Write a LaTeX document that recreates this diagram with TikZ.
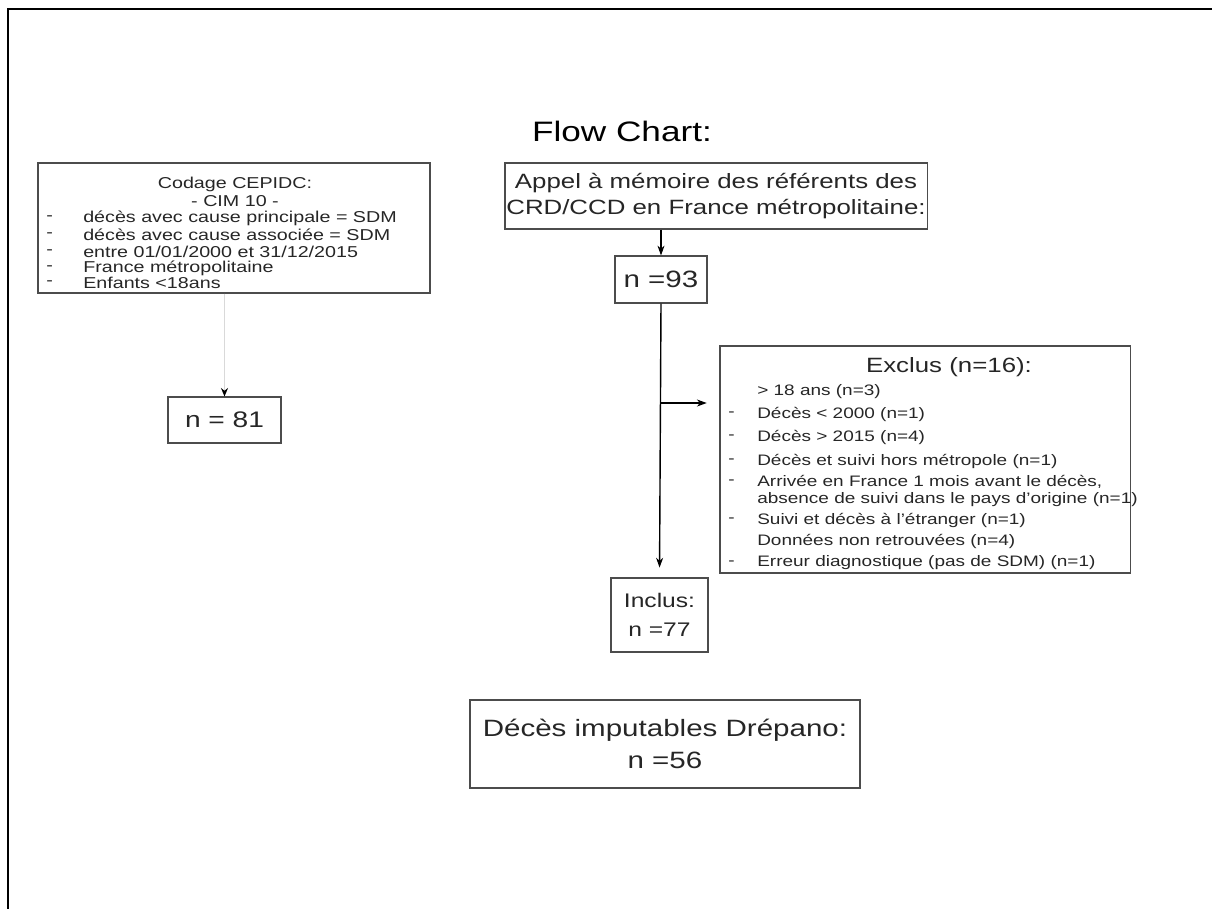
\documentclass[tikz,border=0pt]{standalone}
\usepackage{fontspec}
\setmainfont{Liberation Sans}[FakeStretch=1.25]
\usetikzlibrary{arrows.meta}

\begin{document}
\begin{tikzpicture}[x=0.025cm,y=-0.025cm,
  box/.style={draw=black!70,line width=0.8pt,inner sep=0pt,text=black!85},
  txt/.style={inner sep=0pt,text=black!85,font=\fontsize{11.2}{13}\selectfont},
  extxt/.style={txt,font=\fontsize{10.8}{13}\selectfont},
  arr/.style={line width=1pt,-{Stealth[length=7pt,width=5pt]}}]
\useasboundingbox (0,0) rectangle (1212,909);
% Frame
\draw[line width=1.6pt] (8,909) -- (8,9) -- (1212,9);
% Title
\node[inner sep=0pt,font=\fontsize{20}{24}\selectfont] (title) at (622,131) {Flow Chart:};
% Left part: CepiDC coding
\node[box,minimum width=9.8cm,minimum height=3.25cm] (cepidc) at (234,228) {};
\node[txt] (cepTitle) at (235,184) {Codage CEPIDC:};
\node[txt] (cepCim) at (235,201) {- CIM 10 -};
\node[txt,anchor=west] (cepDashA) at (46,218) {-};
\node[txt,anchor=west] (cepA) at (83,218) {décès avec cause principale = SDM};
\node[txt,anchor=west] (cepDashB) at (46,235) {-};
\node[txt,anchor=west] (cepB) at (83,235) {décès avec cause associée = SDM};
\node[txt,anchor=west] (cepDashC) at (46,252) {-};
\node[txt,anchor=west] (cepC) at (83,252) {entre 01/01/2000 et 31/12/2015};
\node[txt,anchor=west] (cepDashD) at (46,268) {-};
\node[txt,anchor=west] (cepD) at (83,268) {France métropolitaine};
\node[txt,anchor=west] (cepDashE) at (46,283) {-};
\node[txt,anchor=west] (cepE) at (83,283) {Enfants <18ans};
\node[box,minimum width=2.825cm,minimum height=1.15cm,font=\fontsize{16}{19}\selectfont] (nLeft) at (224.5,420) {n = 81};
% Right part: referents
\node[box,minimum width=10.55cm,minimum height=1.65cm,align=center,font=\fontsize{14.7}{18.5}\selectfont] (appel) at (716,196) {Appel à mémoire des référents des\\CRD/CCD en France métropolitaine:};
\node[box,minimum width=2.3cm,minimum height=1.175cm,font=\fontsize{16.8}{20}\selectfont] (nRight) at (661,279.5) {n =93};
% Excluded
\node[box,minimum width=10.25cm,minimum height=5.675cm] (exclus) at (925,459.5) {};
\node[inner sep=0pt,text=black!85,font=\fontsize{14.7}{18}\selectfont] (exTitle) at (949,367) {Exclus (n=16):};
\node[extxt,anchor=west] (exA) at (757,392) {> 18 ans (n=3)};
\node[extxt,anchor=west] (exDashB) at (728,414) {-};
\node[extxt,anchor=west] (exB) at (757,414) {Décès < 2000 (n=1)};
\node[extxt,anchor=west] (exDashC) at (728,437) {-};
\node[extxt,anchor=west] (exC) at (757,437) {Décès > 2015 (n=4)};
\node[extxt,anchor=west] (exDashD) at (728,461) {-};
\node[extxt,anchor=west] (exD) at (757,461) {Décès et suivi hors métropole (n=1)};
\node[extxt,anchor=west] (exDashE) at (728,482) {-};
\node[extxt,anchor=west] (exE) at (757,482) {Arrivée en France 1 mois avant le décès,};
\node[extxt,anchor=west] (exF) at (757,500) {absence de suivi dans le pays d'origine (n=1)};
\node[extxt,anchor=west] (exDashG) at (728,520) {-};
\node[extxt,anchor=west] (exG) at (757,520) {Suivi et décès à l'étranger (n=1)};
\node[extxt,anchor=west] (exH) at (757,541) {Données non retrouvées (n=4)};
\node[extxt,anchor=west] (exDashI) at (728,563) {-};
\node[extxt,anchor=west] (exI) at (757,563) {Erreur diagnostique (pas de SDM) (n=1)};
% Included and deaths
\node[box,minimum width=2.425cm,minimum height=1.85cm,align=center,font=\fontsize{14}{21}\selectfont] (inclus) at (659.5,615) {Inclus:\\n =77};
\node[box,minimum width=9.75cm,minimum height=2.2cm,align=center,font=\fontsize{16.8}{22.8}\selectfont] (deces) at (665,744) {Décès imputables Drépano:\\n =56};
% Arrows
\draw[gray!30,line width=0.8pt,-{Stealth[black,length=6pt,width=5pt]}] (cepidc.south -| nLeft.north) -- (nLeft.north);
\draw[arr,line width=0.8pt] (appel.south -| nRight.north) -- (nRight.north);
\draw[arr,shorten >=7pt] (nRight.south) -- (inclus.north);
\coordinate (branch) at (661,403);
\draw[arr,shorten >=9pt] (branch) -- (branch -| exclus.west);
\end{tikzpicture}
\end{document}
